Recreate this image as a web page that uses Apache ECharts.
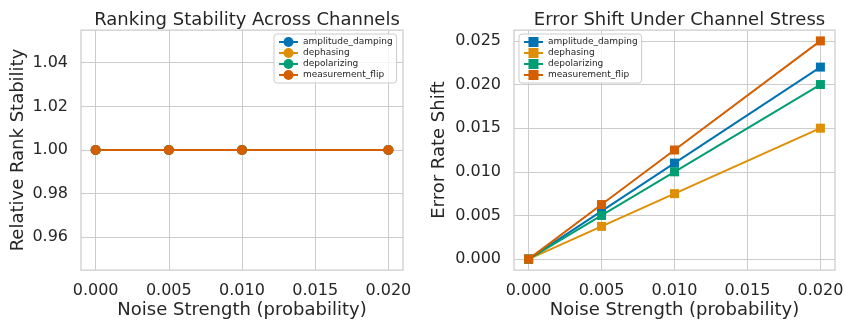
<!DOCTYPE html>
<html>
<head>
<meta charset="utf-8">
<script src="https://cdn.jsdelivr.net/npm/echarts@6/dist/echarts.min.js"></script>
<style>html,body{margin:0;padding:0;background:#fff}#c{width:844px;height:320px}</style>
</head>
<body>
<div id="c"></div>
<script>
const noise = [0.000, 0.005, 0.010, 0.020];
const channels = ['amplitude_damping', 'dephasing', 'depolarizing', 'measurement_flip'];
const colors = ['#0173b2', '#de8f05', '#029e73', '#d55e00'];
const stability = {
  amplitude_damping: [1.0, 1.0, 1.0, 1.0],
  dephasing: [1.0, 1.0, 1.0, 1.0],
  depolarizing: [1.0, 1.0, 1.0, 1.0],
  measurement_flip: [1.0, 1.0, 1.0, 1.0]
};
const errShift = {
  amplitude_damping: [0.0, 0.0055, 0.011, 0.022],
  dephasing: [0.0, 0.00375, 0.0075, 0.015],
  depolarizing: [0.0, 0.005, 0.010, 0.020],
  measurement_flip: [0.0, 0.00625, 0.0125, 0.025]
};
const xTicks = [0.000, 0.005, 0.010, 0.015, 0.020];
const yTicksLeft = [0.96, 0.98, 1.00, 1.02, 1.04];
const yTicksRight = [0.000, 0.005, 0.010, 0.015, 0.020, 0.025];

const FONT = "'DejaVu Sans', sans-serif";
const TXT = '#262626';
const GRIDC = '#cccccc';

function xAxis(gi) {
  return {
    type: 'value', gridIndex: gi, min: -0.001, max: 0.021,
    name: 'Noise Strength (probability)', nameLocation: 'middle', nameGap: 31, nameMoveOverlap: false,
    nameTextStyle: {fontFamily: FONT, fontSize: 18, color: TXT},
    axisLine: {show: false}, axisTick: {show: false, customValues: xTicks},
    axisLabel: {customValues: xTicks, fontFamily: FONT, fontSize: 16, color: TXT, margin: 13,
      formatter: v => v.toFixed(3)},
    splitLine: {show: true, lineStyle: {color: GRIDC, width: 1}}
  };
}
function yAxis(gi, min, max, ticks, dec, name, gap) {
  return {
    type: 'value', gridIndex: gi, min: min, max: max,
    name: name, nameLocation: 'middle', nameGap: gap, nameMoveOverlap: false,
    nameTextStyle: {fontFamily: FONT, fontSize: 18, color: TXT},
    axisLine: {show: false}, axisTick: {show: false, customValues: ticks},
    axisLabel: {customValues: ticks, fontFamily: FONT, fontSize: 16, color: TXT, margin: 13,
      formatter: v => v.toFixed(dec)},
    splitLine: {show: true, lineStyle: {color: GRIDC, width: 1}}
  };
}
function legend(gi, left) {
  return {
    data: channels, orient: 'vertical', left: left, top: 34,
    itemWidth: 19, itemHeight: 12.5, itemGap: 1, padding: [3, 4],
    backgroundColor: 'rgba(255,255,255,0.8)', borderColor: GRIDC, borderWidth: 1, borderRadius: 3,
    textStyle: {fontFamily: FONT, fontSize: 9, color: TXT, padding: [0, 0, 0, 0]},
    itemStyle: {borderWidth: 0}
  };
}
const series = [];
channels.forEach((ch, i) => {
  series.push({
    name: ch, type: 'line', xAxisIndex: 0, yAxisIndex: 0,
    data: noise.map((x, j) => [x, stability[ch][j]]),
    symbol: 'circle', symbolSize: 10, color: colors[i],
    lineStyle: {width: 2, color: colors[i]}, itemStyle: {color: colors[i]},
    emphasis: {disabled: true}, animation: false
  });
});
channels.forEach((ch, i) => {
  series.push({
    name: ch + ' ', type: 'line', xAxisIndex: 1, yAxisIndex: 1,
    data: noise.map((x, j) => [x, errShift[ch][j]]),
    symbol: 'rect', symbolSize: 9, color: colors[i],
    lineStyle: {width: 2, color: colors[i]}, itemStyle: {color: colors[i]},
    emphasis: {disabled: true}, animation: false
  });
});
const leftLeg = legend(0, 274);
const rightLeg = legend(1, 519);
rightLeg.data = channels.map(c => ({name: c + ' '}));
rightLeg.formatter = n => n.trim();

const chart = echarts.init(document.getElementById('c'), null, {renderer: 'canvas'});
chart.setOption({
  backgroundColor: '#ffffff',
  animation: false,
  textStyle: {fontFamily: FONT},
  title: [
    {text: 'Ranking Stability Across Channels', left: 242, top: 6, textAlign: 'center',
      textStyle: {fontFamily: FONT, fontSize: 18, fontWeight: 'normal', color: TXT}},
    {text: 'Error Shift Under Channel Stress', left: 674.5, top: 6, textAlign: 'center',
      textStyle: {fontFamily: FONT, fontSize: 18, fontWeight: 'normal', color: TXT}}
  ],
  grid: [
    {left: 81, top: 30, width: 322, height: 240, show: true, borderColor: GRIDC, borderWidth: 1.25, backgroundColor: 'transparent', outerBoundsMode: 'none', containLabel: false},
    {left: 514, top: 30, width: 321, height: 240, show: true, borderColor: GRIDC, borderWidth: 1.25, backgroundColor: 'transparent', outerBoundsMode: 'none', containLabel: false}
  ],
  legend: [leftLeg, rightLeg],
  xAxis: [xAxis(0), xAxis(1)],
  yAxis: [
    yAxis(0, 0.945, 1.055, yTicksLeft, 2, 'Relative Rank Stability', 54),
    yAxis(1, -0.00125, 0.02625, yTicksRight, 3, 'Error Rate Shift', 66)
  ],
  series: series
});
</script>
</body>
</html>
